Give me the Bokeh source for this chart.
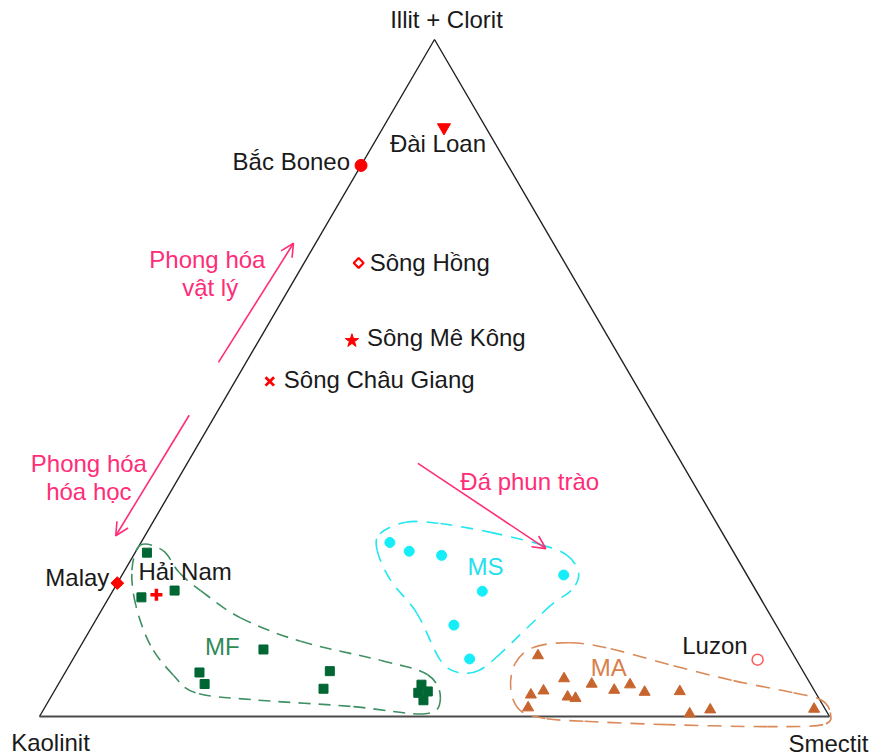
import numpy as np
from bokeh.plotting import figure
from bokeh.models import Range1d, Arrow, OpenHead
from bokeh.core.properties import value
from bokeh.embed import file_html
from bokeh.resources import INLINE

# ---- data: ternary compositions in % (I = Illit + Clorit, S = Smectit, Kaolinit = 100 - I - S)
vertex_names = ["Illit + Clorit", "Kaolinit", "Smectit"]
vertex_I = [100.0, 0.0, 0.0]
vertex_S = [0.0, 0.0, 100.0]

ref_names = ["Đài Loan", "Bắc Boneo", "Sông Hồng", "Sông Mê Kông",
             "Sông Châu Giang", "Malay", "Hải Nam", "Luzon"]
ref_I = [87.0, 81.4, 67.0, 55.5, 49.5, 19.7, 18.0, 8.4]
ref_S = [7.7, 0.0, 6.9, 11.8, 4.4, 0.0, 5.8, 86.7]

mf_I = [24.2, 17.6, 18.6, 9.9, 6.5, 4.8, 6.7, 4.1, 4.7, 3.5, 3.7, 2.4]
mf_S = [1.5, 4.1, 7.8, 23.4, 17.0, 18.5, 33.4, 33.9, 46.0, 46.2, 47.3, 47.4]

ms_I = [25.7, 24.4, 23.8, 20.9, 18.5, 13.5, 8.5]
ms_S = [31.5, 34.6, 39.0, 55.9, 46.8, 45.7, 50.2]

ma_I = [9.0, 5.6, 3.2, 3.8, 2.9, 2.7, 4.8, 3.9, 4.7, 3.6, 3.7, 1.3, 0.4, 1.0, 1.1]
ma_S = [58.6, 63.6, 60.6, 61.9, 65.4, 66.5, 67.5, 70.8, 72.4, 74.8, 79.2, 61.2, 82.1, 84.4, 97.5]

group_names = ["MF", "MS", "MA"]
group_I = [10.3, 22.1, 7.3]
group_S = [18.0, 45.4, 68.4]

# field outlines (hull anchors, ternary %)
mf_hull_I = [25.3, 24.5, 21.3, 18.6, 14.6, 11.1, 8.3, 6.2, 2.7, 0.4, 1.5, 2.5, 3.5, 6.1, 10.5, 16.4, 21.6]
mf_hull_S = [0.1, 3.4, 7.0, 11.1, 18.1, 27.5, 39.0, 46.0, 49.4, 48.6, 38.6, 25.5, 18.0, 13.9, 8.8, 4.0, 0.9]
ms_hull_I = [27.0, 28.7, 28.5, 27.2, 25.4, 23.8, 21.1, 18.6, 16.4, 9.3, 6.8, 6.5, 8.3, 15.2, 20.1, 24.5]
ms_hull_S = [29.6, 32.0, 36.5, 43.5, 50.7, 54.9, 57.7, 58.0, 56.5, 53.7, 52.2, 49.8, 46.6, 40.2, 34.4, 30.5]
ma_hull_I = [10.2, 10.9, 10.0, 7.5, 5.3, 3.5, 2.5, 0.6, -1.2, -1.5, -1.2, -0.7, -0.3, 0.9, 4.1, 7.8]
ma_hull_S = [57.4, 61.7, 67.3, 76.5, 85.2, 93.7, 97.6, 99.8, 99.8, 92.9, 80.1, 69.2, 64.2, 60.4, 57.6, 56.3]

# process annotations
note_texts = ["Phong hóa", "vật lý", "Phong hóa", "hóa học", "Đá phun trào"]
note_I = [67.5, 63.4, 37.3, 33.3, 34.7]
note_S = [-12.5, -10.1, -12.4, -10.4, 44.7]
arrow_I0 = [52.3, 44.5, 37.4]
arrow_S0 = [-3.5, -3.3, 29.2]
arrow_I1 = [69.9, 26.7, 24.8]
arrow_S1 = [-2.8, -3.7, 51.7]

# ---- projection
H3 = np.sqrt(3) / 2


def tern(I, S):
    I = np.asarray(I, dtype=float) / 100.0
    S = np.asarray(S, dtype=float) / 100.0
    return S + I / 2.0, I * H3


FONT = value("Liberation Sans")
FS = value("24px")
PINK = "#ff2d78"
RED = "#ff0000"

kx = 1 / 790.0          # data units per px (x)
ky = H3 / 677.0         # data units per px (y)
p = figure(width=870, height=756, output_backend="svg", toolbar_location=None,
           x_range=Range1d(-39 * kx, 831 * kx), y_range=Range1d(-40 * ky, 716 * ky),
           min_border=0, x_axis_location=None, y_axis_location=None,
           outline_line_color=None, background_fill_color="white",
           border_fill_color="white")
p.xgrid.visible = False
p.ygrid.visible = False

# triangle
vx, vy = tern(vertex_I, vertex_S)
p.line([vx[1], vx[0], vx[2]], [vy[1], vy[0], vy[2]], line_color="#222222", line_width=1.4)
p.line([vx[1], vx[2]], [vy[1], vy[2]], line_color="#4a4a4a", line_width=2.2)

# vertex labels
v_off = [(12, -20), (11, 26), (-1, 27)]
for i, name in enumerate(vertex_names):
    p.text(x=[vx[i]], y=[vy[i]], text=[name], text_font=FONT, text_font_size=FS,
           text_color="#1a1a1a", text_align="center", text_baseline="middle",
           x_offset=v_off[i][0], y_offset=v_off[i][1])


# outlines as smooth closed curves (Catmull-Rom -> cubic Bezier)
def closed_curve(I, S, color, dash):
    x, y = tern(I, S)
    n = len(x)
    idx = np.arange(n)
    x0, y0 = x, y
    x1, y1 = x[(idx + 1) % n], y[(idx + 1) % n]
    xm, ym = x[(idx - 1) % n], y[(idx - 1) % n]
    x2, y2 = x[(idx + 2) % n], y[(idx + 2) % n]
    cx0 = x0 + (x1 - xm) / 6.0
    cy0 = y0 + (y1 - ym) / 6.0
    cx1 = x1 - (x2 - x0) / 6.0
    cy1 = y1 - (y2 - y0) / 6.0
    p.bezier(x0=x0, y0=y0, x1=x1, y1=y1, cx0=cx0, cy0=cy0, cx1=cx1, cy1=cy1,
             line_color=color, line_width=1.6, line_dash=dash)


closed_curve(mf_hull_I, mf_hull_S, "#3f9063", "12 8")
closed_curve(ms_hull_I, ms_hull_S, "#22e6f0", "12 9")
closed_curve(ma_hull_I, ma_hull_S, "#d98a58", "14 9")

# group points
x, y = tern(mf_I, mf_S)
p.scatter(x, y, marker="square", size=9, fill_color="#006633", line_color="#006633")
x, y = tern(ms_I, ms_S)
p.scatter(x, y, marker="circle", size=10, fill_color="#15eef8", line_color="#15eef8")
x, y = tern(ma_I, ma_S)
p.scatter(x, y, marker="triangle", size=11, fill_color="#c8642d", line_color="#c8642d")

group_colors = ["#2e8b57", "#22e0ee", "#d9804a"]
gx, gy = tern(group_I, group_S)
for i, name in enumerate(group_names):
    p.text(x=[gx[i]], y=[gy[i]], text=[name], text_font=FONT, text_font_size=FS,
           text_color=group_colors[i], text_align="center", text_baseline="middle")

# reference points
rx, ry = tern(ref_I, ref_S)
ref_style = [
    dict(marker="inverted_triangle", size=13, fill_color=RED, line_color=RED),
    dict(marker="circle", size=12, fill_color=RED, line_color=RED),
    dict(marker="square", size=7, angle=np.pi / 4, fill_color="white", line_color=RED, line_width=2.2),
    dict(marker="star", size=14, fill_color=RED, line_color=RED),
    dict(marker="x", size=12, line_color=RED, line_width=2.8),
    dict(marker="square", size=9, angle=np.pi / 4, fill_color=RED, line_color=RED),
    dict(marker="cross", size=12, line_color=RED, line_width=3.5),
    dict(marker="circle", size=11, fill_color="white", line_color="#ff5a5a", line_width=1.5),
]
ref_label = [("center", -6, 16), ("right", -11, -4), ("left", 11, 0), ("left", 15, -3),
             ("left", 14, -2), ("right", -8, -6), ("left", -18, -23), ("right", -10, -14)]
for i, name in enumerate(ref_names):
    p.scatter([rx[i]], [ry[i]], **ref_style[i])
for i, name in enumerate(ref_names):
    al, dx, dy = ref_label[i]
    p.text(x=[rx[i]], y=[ry[i]], text=[name], text_font=FONT, text_font_size=FS,
           text_color="#1a1a1a", text_align=al, text_baseline="middle",
           x_offset=dx, y_offset=dy)

# arrows
ax0, ay0 = tern(arrow_I0, arrow_S0)
ax1, ay1 = tern(arrow_I1, arrow_S1)
for i in range(len(ax0)):
    p.add_layout(Arrow(end=OpenHead(size=13, line_color=PINK, line_width=1.6),
                       x_start=ax0[i], y_start=ay0[i], x_end=ax1[i], y_end=ay1[i],
                       line_color=PINK, line_width=1.6))

nx, ny = tern(note_I, note_S)
for i, t in enumerate(note_texts):
    p.text(x=[nx[i]], y=[ny[i]], text=[t], text_font=FONT, text_font_size=FS,
           text_color=PINK, text_align="center", text_baseline="middle")

open("out.html", "w").write(file_html(p, INLINE))
